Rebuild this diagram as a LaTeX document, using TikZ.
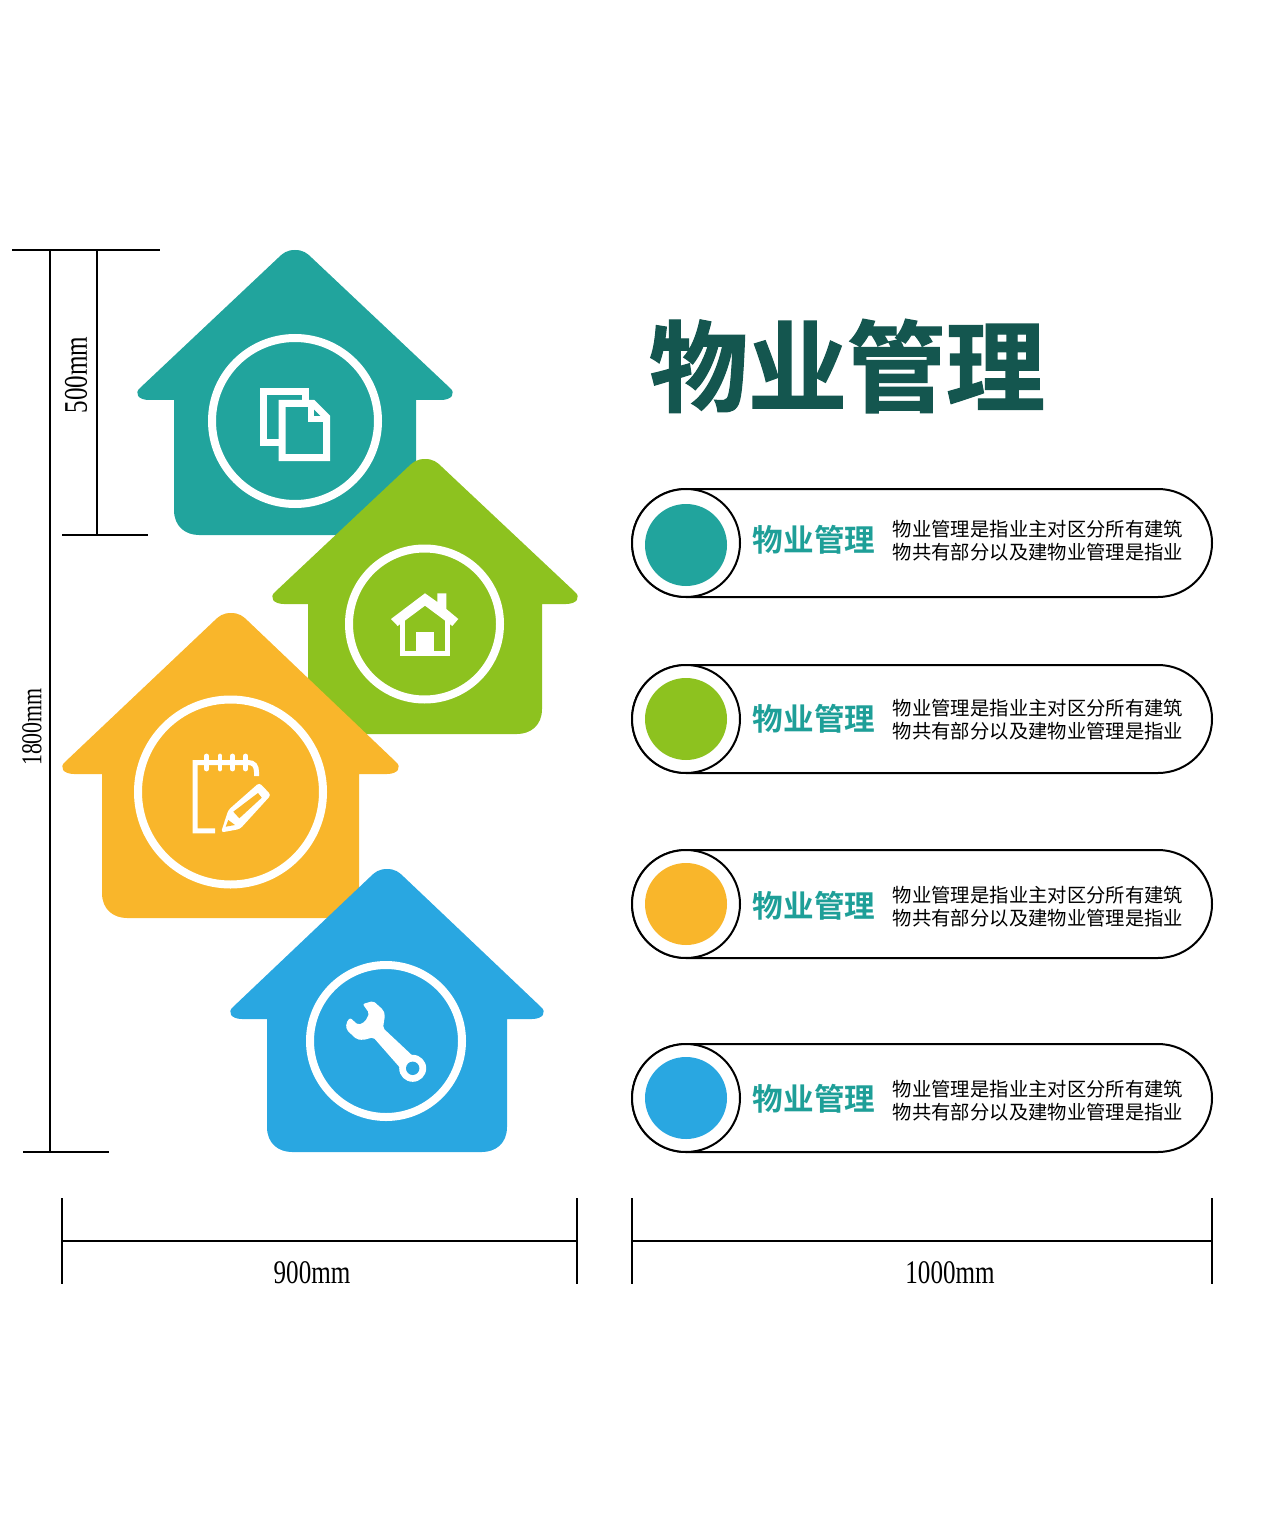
\documentclass[tikz,border=0pt]{standalone}
\usepackage{fontspec}
\setmainfont{Liberation Serif}
\newfontfamily\dimfont[FakeStretch=0.76]{Liberation Serif}
\newfontfamily\titlefont[FakeBold=1.2]{Noto Sans CJK SC Bold}
\newfontfamily\headfont{Noto Sans CJK SC Bold}
\newfontfamily\bodyfont{Noto Sans CJK SC}
\definecolor{cteal}{HTML}{21A49D}
\definecolor{cgreen}{HTML}{8DC21F}
\definecolor{cyellow}{HTML}{F9B62B}
\definecolor{cblue}{HTML}{29A7E1}
\definecolor{ctitle}{HTML}{14564F}
\definecolor{chead}{HTML}{1E9F98}
\tikzset{
  dimline/.style={line width=1pt,black},
  ring/.style={line width=4pt,white},
  iconline/.style={line width=3.5pt,white,miter limit=10},
  pill/.style={line width=1pt,black},
  dimtext/.style={font=\dimfont\fontsize{16.5}{18}\selectfont,inner sep=0pt},
  dimsmall/.style={font=\dimfont\fontsize{14.4}{16}\selectfont,inner sep=0pt},
  headtext/.style={font=\headfont\fontsize{15.3}{17}\selectfont,text=chead,inner sep=0pt},
  bodytext/.style={font=\bodyfont\fontsize{9.67}{11.6}\selectfont,align=center,inner sep=0pt},
}
\newcommand{\housefig}[9]{%
  \fill[#1] (#2,#3) .. controls ({#2+8},#3) and ({#2+12},{#3+3}) .. ({#2+17},{#3+8})
   -- ({#5-3},{#6-12}) .. controls ({#5+3},{#6-7}) and ({#5-1},#6) .. ({#5-12},#6)
   -- (#8,#6) -- (#8,{#9-25}) .. controls (#8,{#9-8}) and ({#8-12},#9) .. ({#8-25},#9)
   -- ({#7+25},#9) .. controls ({#7+12},#9) and (#7,{#9-8}) .. (#7,{#9-25})
   -- (#7,#6) -- ({#4+12},#6) .. controls ({#4+1},#6) and ({#4-3},{#6-7}) .. ({#4+3},{#6-12})
   -- ({#2-17},{#3+8}) .. controls ({#2-12},{#3+3}) and ({#2-8},#3) .. (#2,#3) -- cycle;}
\newcommand{\pillrow}[6]{%
  \draw[pill,fill=white,rounded corners=27pt] (632,{#2-54}) rectangle (1212,{#2+54});
  \draw[pill,fill=white] (686,#2) circle[radius=54];
  \fill[#1] (686,#3) circle[radius=41];
  \node[headtext] (head#6) at (814,#4) {物业管理};
  \node[bodytext] (body#6) at (1038,#5) {物业管理是指业主对区分所有建筑\\物共有部分以及建物业管理是指业};}
\begin{document}
\begin{tikzpicture}[x=0.5pt,y=-0.5pt]
\useasboundingbox (0,0) rectangle (1280,1513);
% houses
\housefig{cteal}{295}{250}{137}{453}{400}{174}{416}{535}
\draw[ring] (295,421) circle[radius=83];
% documents icon
\draw[iconline] (305.5,402) -- (305.5,391.5) -- (263.5,391.5) -- (263.5,442.5) -- (280,442.5);
\draw[iconline] (282,403.5) -- (313,403.5) -- (326.5,417) -- (326.5,457.5) -- (282,457.5) -- cycle;
\draw[line width=3pt,white] (310.5,403) -- (310.5,419.5) -- (328,419.5);
\housefig{cgreen}{425}{459}{272}{578}{604}{308}{542}{734}
\draw[ring] (424.5,624) circle[radius=75.5];
% home icon
\fill[white] (425,593.3) -- (437.3,602) -- (437.3,593.3) -- (446.3,593.3) -- (446.3,609) -- (458.3,619) -- (452.3,626) -- (425,605.7) -- (397.7,626) -- (391,619) -- cycle;
\draw[line width=2.5pt,white] (402.5,618) -- (402.5,653.2) -- (447.5,653.2) -- (447.5,618);
\fill[white] (416,631.7) rectangle (434.3,652);
\housefig{cyellow}{231}{613}{62}{399}{774}{102}{359}{918}
\draw[ring] (230.5,792) circle[radius=92.5];
% notebook icon
\draw[line width=2.5pt,white,line join=miter] (215,830.8) -- (195.2,830.8) -- (195.2,762.5) -- (248,762.5) .. controls (254,762.5) and (256.5,766) .. (256.5,772) -- (256.5,776);
\foreach \rx in {206.7,220,232.7,245.7}{\draw[line width=2.4pt,white,line cap=round] (\rx,756) -- (\rx,769);}
\fill[white,rounded corners=1.5pt] (221,832.5) -- (228.3,810) -- (259.3,782.7) -- (271,795) -- (240,829) -- cycle;
\fill[cyellow] (233.3,811.7) -- (258,793) -- (261.7,797.7) -- (239.3,818.3) -- cycle;
\fill[cyellow] (225.7,826.7) -- (228.3,820) -- (235,825) -- cycle;
\housefig{cblue}{387}{869}{230}{544}{1019}{267}{507}{1152}
\draw[ring] (386,1041) circle[radius=76];
% wrench icon
\fill[white,rounded corners=1pt] (362.7,1004) -- (373.3,1001) -- (383.3,1010) -- (385,1015) -- (383,1028) -- (415,1058) -- (402,1070) -- (373.3,1037.3) -- (363.3,1040) -- (356.7,1039.3) -- (346.7,1030) -- (346,1023.3) -- (350,1017.7) -- (358.3,1025) -- (365,1021.7) -- (369.3,1013.3) -- cycle;
\fill[white] (412.7,1068.3) circle[radius=13.5];
\fill[cblue] (412.7,1068.3) circle[radius=6.7];
% title
\node[font=\titlefont\fontsize{49.5}{52}\selectfont,text=ctitle,inner sep=0pt] (title) at (847,366) {物业管理};
% rows
\pillrow{cteal}{543}{545}{540}{540.5}{a}
\pillrow{cgreen}{719}{719}{719}{719.5}{b}
\pillrow{cyellow}{904}{904}{906}{906.5}{c}
\pillrow{cblue}{1098}{1098}{1099}{1100.5}{d}
% dimensions
\coordinate (v1t) at (50,250); \coordinate (v1b) at (50,1152);
\coordinate (v2t) at (97,250); \coordinate (v2b) at (97,535);
\draw[dimline] (v1t) -- (v1b);
\draw[dimline] (v2t) -- (v2b);
\draw[dimline] (12,250) -- (160,250);
\draw[dimline] (23,1152) -- (109,1152);
\draw[dimline] (62,535) -- (148,535);
\draw[dimline] (62,1198) -- (62,1284);
\draw[dimline] (577,1198) -- (577,1284);
\draw[dimline] (62,1241) -- (577,1241);
\draw[dimline] (632,1198) -- (632,1284);
\draw[dimline] (1212,1198) -- (1212,1284);
\draw[dimline] (632,1241) -- (1212,1241);
\node[dimsmall,rotate=90] (d1800) at (32,727) {1800mm};
\node[dimtext,rotate=90] (d500) at (76,375) {500mm};
\node[dimtext] (d900) at (312,1273) {900mm};
\node[dimtext] (d1000) at (950,1273) {1000mm};
\end{tikzpicture}
\end{document}
